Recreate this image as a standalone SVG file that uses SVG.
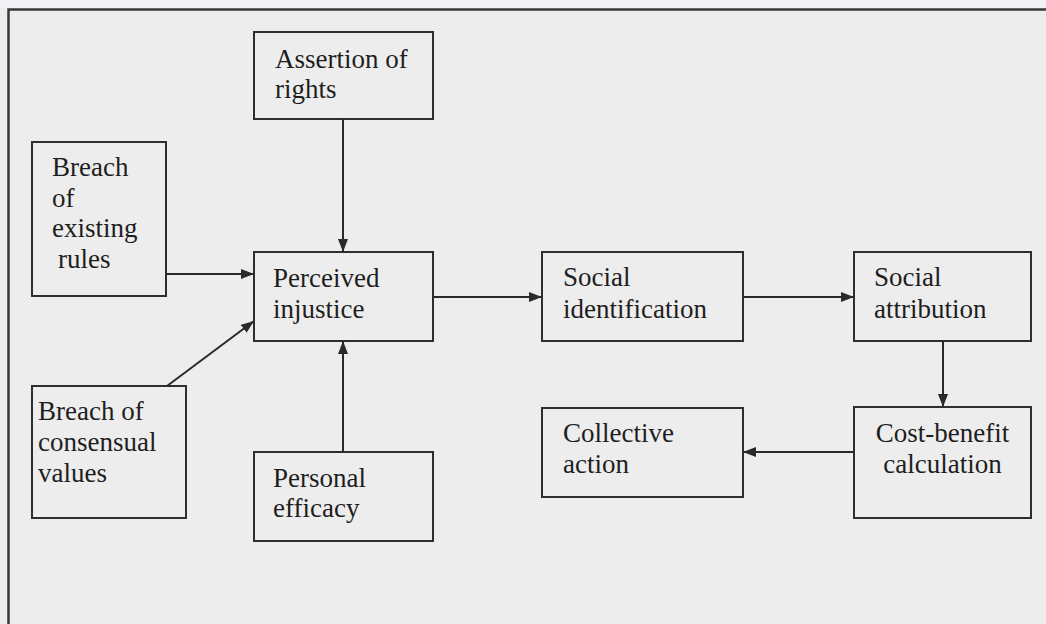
<svg xmlns="http://www.w3.org/2000/svg" width="1046" height="624" viewBox="0 0 1046 624">
  <defs>
    <marker id="arrow" viewBox="0 0 13 10" refX="13" refY="5" markerWidth="13" markerHeight="10" markerUnits="userSpaceOnUse" orient="auto">
      <path d="M0,0 L13,5 L0,10 z" fill="#2a2a2a"/>
    </marker>
    <style>
      .box { fill: none; stroke: #2e2e2e; stroke-width: 2; }
      .frame { fill: none; stroke: #3a3a3a; stroke-width: 2.5; }
      .label { font-family: "Liberation Serif", "Times New Roman", serif; font-size: 27px; fill: #1e1e1e; }
      .mid { text-anchor: middle; }
      .edge { stroke: #2a2a2a; stroke-width: 2; fill: none; marker-end: url(#arrow); }
    </style>
  </defs>

  <rect x="0" y="0" width="1046" height="624" fill="#ededed"/>
  <rect x="0" y="0" width="1046" height="8" fill="#f3f3f5"/>

  <!-- outer frame: top and left rules only -->
  <path class="frame" d="M1046,9.5 H8.5 V624"/>

  <g id="assertion">
    <rect class="box" x="254" y="32" width="179" height="87"/>
    <text class="label" x="275" y="68">Assertion of</text>
    <text class="label" x="275" y="98">rights</text>
  </g>

  <g id="breach-rules">
    <rect class="box" x="32" y="142" width="134" height="154"/>
    <text class="label" x="52" y="176">Breach</text>
    <text class="label" x="52" y="207">of</text>
    <text class="label" x="52" y="237">existing</text>
    <text class="label" x="58" y="268">rules</text>
  </g>

  <g id="perceived-injustice">
    <rect class="box" x="254" y="252" width="179" height="89"/>
    <text class="label" x="273" y="287">Perceived</text>
    <text class="label" x="273" y="318">injustice</text>
  </g>

  <g id="breach-values">
    <rect class="box" x="32" y="386" width="154" height="132"/>
    <text class="label" x="38" y="420">Breach of</text>
    <text class="label" x="38" y="451">consensual</text>
    <text class="label" x="38" y="482">values</text>
  </g>

  <g id="personal-efficacy">
    <rect class="box" x="254" y="452" width="179" height="89"/>
    <text class="label" x="273" y="487">Personal</text>
    <text class="label" x="273" y="517">efficacy</text>
  </g>

  <g id="social-identification">
    <rect class="box" x="542" y="252" width="201" height="89"/>
    <text class="label" x="563" y="286">Social</text>
    <text class="label" x="563" y="318">identification</text>
  </g>

  <g id="social-attribution">
    <rect class="box" x="854" y="252" width="177" height="89"/>
    <text class="label" x="874" y="286">Social</text>
    <text class="label" x="874" y="318">attribution</text>
  </g>

  <g id="collective-action">
    <rect class="box" x="542" y="408" width="201" height="89"/>
    <text class="label" x="563" y="442">Collective</text>
    <text class="label" x="563" y="473">action</text>
  </g>

  <g id="cost-benefit">
    <rect class="box" x="854" y="407" width="177" height="111"/>
    <text class="label mid" x="942.5" y="442">Cost-benefit</text>
    <text class="label mid" x="942.5" y="473">calculation</text>
  </g>

  <g id="connectors">
    <line class="edge" x1="343" y1="119" x2="343" y2="252"/>
    <line class="edge" x1="166" y1="274" x2="254" y2="274"/>
    <line class="edge" x1="167" y1="386" x2="254" y2="321"/>
    <line class="edge" x1="343" y1="452" x2="343" y2="341"/>
    <line class="edge" x1="433" y1="297" x2="542" y2="297"/>
    <line class="edge" x1="743" y1="297" x2="854" y2="297"/>
    <line class="edge" x1="943" y1="341" x2="943" y2="407"/>
    <line class="edge" x1="854" y1="452" x2="743" y2="452"/>
  </g>
</svg>
